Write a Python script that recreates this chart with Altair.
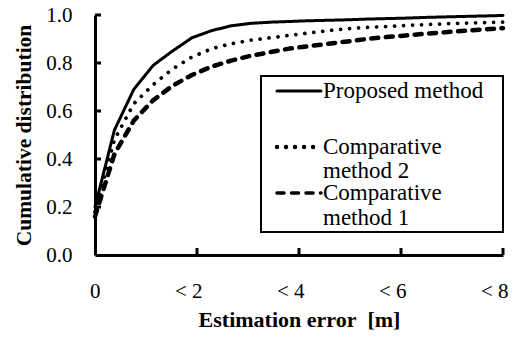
import altair as alt
import pandas as pd

# ---- data ----
ERROR_M = [0, 0.38, 0.76, 1.14, 1.52, 1.9, 2.29, 2.67, 3.05, 3.43, 3.81,
           4.19, 4.57, 4.95, 5.33, 5.71, 6.1, 6.48, 6.86, 7.24, 7.62, 8.0]
PROPOSED = [0.20, 0.52, 0.69, 0.79, 0.85, 0.905, 0.935, 0.955, 0.965, 0.970, 0.973,
            0.976, 0.978, 0.980, 0.983, 0.985, 0.987, 0.990, 0.992, 0.994, 0.996, 0.998]
COMP2 = [0.18, 0.48, 0.63, 0.71, 0.775, 0.825, 0.86, 0.88, 0.895, 0.905, 0.915,
         0.925, 0.935, 0.943, 0.948, 0.952, 0.956, 0.960, 0.963, 0.966, 0.968, 0.970]
COMP1 = [0.16, 0.42, 0.56, 0.645, 0.705, 0.75, 0.785, 0.81, 0.83, 0.845, 0.86,
         0.87, 0.88, 0.89, 0.90, 0.908, 0.915, 0.922, 0.928, 0.934, 0.940, 0.945]
SERIES = ["Proposed method", "Comparative method 2", "Comparative method 1"]
LEGEND_LINES = [["Proposed method"], ["Comparative", "method 2"], ["Comparative", "method 1"]]
X_TICKS = [0, 2, 4, 6, 8]
X_TICK_LABELS = ["0", "< 2", "< 4", "< 6", "< 8"]
Y_TICKS = [0.0, 0.2, 0.4, 0.6, 0.8, 1.0]
X_TITLE = "Estimation error\u00a0 [m]"
Y_TITLE = "Cumulative distribution"

# ---- layout / style ----
W, H = 408, 240
FONT = "'Liberation Serif', 'Times New Roman', serif"
DASHES = [[1, 0], [0.01, 9], [7, 7.5]]
WIDTHS = [3, 4.5, 3.5]
LEG_BOX = (166, 408, 61, 217)
LEG_SYM_X = (182, 226)
LEG_TEXT_X = 228
LEG_ROW_Y = [[76], [132, 156], [178, 203]]

rows = []
for name, vals in zip(SERIES, [PROPOSED, COMP2, COMP1]):
    for x, v in zip(ERROR_M, vals):
        rows.append({"x": x, "y": v, "series": name})
df = pd.DataFrame(rows)

xscale = alt.Scale(domain=[0, 8], nice=False)
yscale = alt.Scale(domain=[0, 1], nice=False)

label_expr = "''"
for v, lab in reversed(list(zip(X_TICKS, X_TICK_LABELS))):
    label_expr = f"datum.value == {v} ? '{lab}' : ({label_expr})"

x_axis = alt.Axis(values=X_TICKS, labelExpr=label_expr, labelPadding=25,
                  labelAlign="right", labelOffset=5,
                  title=X_TITLE, titleFontSize=22, titlePadding=8)
y_axis = alt.Axis(values=Y_TICKS, format=".1f", labelPadding=23,
                  title=Y_TITLE, titleFontSize=21.5, titlePadding=10)

lines = alt.Chart(df).mark_line(strokeCap="round", strokeJoin="round", color="black").encode(
    x=alt.X("x:Q", scale=xscale, axis=x_axis),
    y=alt.Y("y:Q", scale=yscale, axis=y_axis),
    strokeDash=alt.StrokeDash("series:N", scale=alt.Scale(domain=SERIES, range=DASHES), legend=None),
    strokeWidth=alt.StrokeWidth("series:N", scale=alt.Scale(domain=SERIES, range=WIDTHS), legend=None),
)

yticks = alt.Chart(pd.DataFrame({"y": Y_TICKS[1:]})).mark_rule(color="black", strokeWidth=3).encode(
    y=alt.Y("y:Q", scale=yscale, axis=y_axis), x=alt.value(0), x2=alt.value(6))
xticks = alt.Chart(pd.DataFrame({"x": X_TICKS[1:]})).mark_rule(color="black", strokeWidth=3).encode(
    x=alt.X("x:Q", scale=xscale, axis=x_axis), y=alt.value(H), y2=alt.value(H - 7))

one = pd.DataFrame({"k": [0]})
box = alt.Chart(one).mark_rect(fill="white", stroke="black", strokeWidth=2).encode(
    x=alt.value(LEG_BOX[0]), x2=alt.value(LEG_BOX[1]),
    y=alt.value(LEG_BOX[2]), y2=alt.value(LEG_BOX[3]))

layers = [lines, yticks, xticks, box]
for i, name in enumerate(SERIES):
    sym = alt.Chart(one).mark_rule(color="black", strokeWidth=WIDTHS[i], strokeDash=DASHES[i],
                                   strokeCap="round").encode(
        x=alt.value(LEG_SYM_X[0]), x2=alt.value(LEG_SYM_X[1]), y=alt.value(LEG_ROW_Y[i][0]))
    layers.append(sym)
    for line_text, ly in zip(LEGEND_LINES[i], LEG_ROW_Y[i]):
        txt = alt.Chart(one).mark_text(align="left", baseline="middle", font=FONT, fontSize=23,
                                       color="black").encode(
            x=alt.value(LEG_TEXT_X), y=alt.value(ly), text=alt.value(line_text))
        layers.append(txt)

chart = alt.layer(*layers).properties(
    width=W, height=H,
    background="white",
    autosize=alt.AutoSizeParams(type="none"),
    padding={"left": 87, "top": 7, "right": 9, "bottom": 78},
).configure_view(stroke=None).configure_axis(
    ticks=False, grid=False, domainColor="black", domainWidth=3,
    labelFont=FONT, labelFontSize=21, labelColor="black", labelFlush=False,
    titleFont=FONT, titleFontWeight="bold", titleColor="black",
)

chart.save("out.html", embed_options={"renderer": "svg", "actions": False})
